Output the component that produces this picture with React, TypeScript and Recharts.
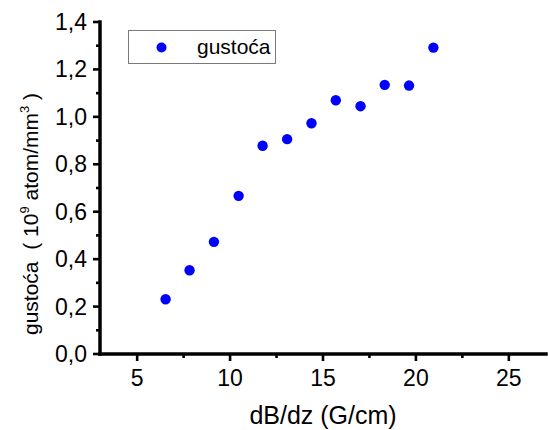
import React from 'react';
import { ScatterChart, Scatter, XAxis, YAxis, Legend, Label } from 'recharts';

const seriesName = 'gustoća';
const gradient = [6.53, 7.82, 9.13, 10.46, 11.75, 13.07, 14.38, 15.69, 17.02, 18.32, 19.63, 20.94];
const density = [0.231, 0.353, 0.473, 0.667, 0.878, 0.906, 0.973, 1.07, 1.045, 1.135, 1.132, 1.292];

const xMajorTicks = [5, 10, 15, 20, 25];
const xMinorTicks = [7.5, 12.5, 17.5, 22.5];
const yMajorTicks = [0, 0.2, 0.4, 0.6, 0.8, 1.0, 1.2, 1.4];
const yMinorTicks = [0.1, 0.3, 0.5, 0.7, 0.9, 1.1, 1.3];

const data = gradient.map((g, i) => ({ x: g, y: density[i] }));

const FONT = '"Liberation Sans", Arial, sans-serif';
const BLUE = '#0000ff';

const isMajor = (v: number, majors: number[]) => majors.some((m) => Math.abs(m - v) < 1e-6);

const XTick = (props: any) => {
  const { x, y, payload } = props;
  const major = isMajor(payload.value, xMajorTicks);
  return (
    <g>
      <line x1={x} x2={x} y1={y} y2={y + (major ? 7 : 4)} stroke="#000" strokeWidth={2.6} />
      {major && (
        <text x={x} y={y + 31.5} textAnchor="middle" fontFamily={FONT} fontSize={23} fill="#000">
          {String(payload.value)}
        </text>
      )}
    </g>
  );
};

const YTick = (props: any) => {
  const { x, y, payload } = props;
  const major = isMajor(payload.value, yMajorTicks);
  return (
    <g>
      <line x1={x - (major ? 7 : 4)} x2={x} y1={y} y2={y} stroke="#000" strokeWidth={2.6} />
      {major && (
        <text x={x - 13} y={y + 8} textAnchor="end" fontFamily={FONT} fontSize={23} fill="#000">
          {Number(payload.value).toFixed(1).replace('.', ',')}
        </text>
      )}
    </g>
  );
};

const YLabel = (props: any) => {
  const vb = props.viewBox;
  const lx = vb.x + 38;
  const ly = vb.y + vb.height - 19;
  return (
    <text
      x={lx}
      y={ly}
      transform={`rotate(-90, ${lx}, ${ly})`}
      fontFamily={FONT}
      fontSize={21}
      fill="#000"
      style={{ whiteSpace: 'pre' }}
    >
      <tspan>{'gustoća  ( 10'}</tspan>
      <tspan dy={-9} fontSize={13}>9</tspan>
      <tspan dy={9}>{' atom/mm'}</tspan>
      <tspan dy={-9} fontSize={13}>3</tspan>
      <tspan dy={9}>{' )'}</tspan>
    </text>
  );
};

const XLabel = (props: any) => {
  const vb = props.viewBox;
  return (
    <text x={vb.x + vb.width / 2} y={vb.y + 70} textAnchor="middle" fontFamily={FONT} fontSize={25} fill="#000">
      dB/dz (G/cm)
    </text>
  );
};

const LegendBox = (props: any) => {
  const payload = props.payload || [];
  const label = payload.length ? payload[0].value : seriesName;
  return (
    <svg width={149} height={35} style={{ display: 'block' }}>
      <rect x={0.5} y={0.5} width={147} height={33} fill="#fff" stroke="#7a7a7a" strokeWidth={1} />
      <circle cx={33.5} cy={17.5} r={5} fill={BLUE} />
      <text x={69} y={23.5} fontFamily={FONT} fontSize={21} fill="#000">
        {label}
      </text>
    </svg>
  );
};

const Dot = (props: any) => <circle cx={props.cx} cy={props.cy} r={5.2} fill={BLUE} />;

export default function App() {
  return (
    <div style={{ position: 'absolute', left: 0, top: 0, width: 548, height: 430, background: '#fff' }}>
      <ScatterChart width={548} height={430} margin={{ top: 22, right: 2, bottom: 0, left: 0 }}>
        <XAxis
          type="number"
          dataKey="x"
          domain={[3, 27]}
          ticks={[...xMajorTicks, ...xMinorTicks].sort((a, b) => a - b)}
          interval={0}
          tickSize={0}
          tickMargin={0}
          tickLine={false}
          tick={<XTick />}
          axisLine={{ stroke: '#000', strokeWidth: 3.5, strokeLinecap: 'square' }}
          height={76}
          allowDataOverflow
        >
          <Label content={<XLabel />} />
        </XAxis>
        <YAxis
          type="number"
          dataKey="y"
          domain={[0, 1.4]}
          ticks={[...yMajorTicks, ...yMinorTicks].sort((a, b) => a - b)}
          interval={0}
          tickSize={0}
          tickMargin={0}
          tickLine={false}
          tick={<YTick />}
          axisLine={{ stroke: '#000', strokeWidth: 3.5, strokeLinecap: 'square' }}
          width={100}
          allowDataOverflow
        >
          <Label content={<YLabel />} />
        </YAxis>
        <Legend
          layout="horizontal"
          verticalAlign="middle"
          align="center"
          content={<LegendBox />}
          wrapperStyle={{ left: 128, top: 30, width: 149, height: 35 }}
        />
        <Scatter name={seriesName} data={data} fill={BLUE} shape={<Dot />} isAnimationActive={false} />
      </ScatterChart>
    </div>
  );
}
